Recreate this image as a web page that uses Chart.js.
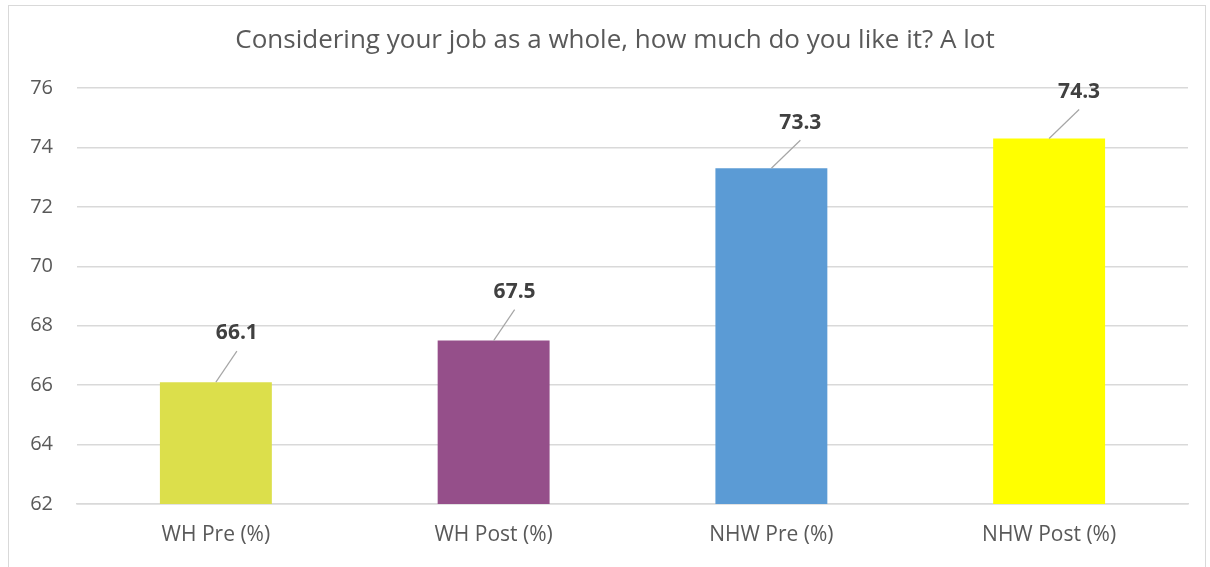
<!DOCTYPE html>
<html>
<head>
<meta charset="utf-8">
<script src="https://cdn.jsdelivr.net/npm/chart.js@4/dist/chart.umd.min.js"></script>
<style>
  html, body { margin: 0; padding: 0; background: #fff; overflow: hidden; }
  #wrap { position: relative; width: 1210px; height: 567px; }
  #frame {
    position: absolute; left: 8px; top: 5px; width: 1198px; height: 580px;
    border: 1px solid #d9d9d9; box-sizing: border-box; pointer-events: none;
  }
  canvas { position: absolute; left: 0; top: 0; }
</style>
</head>
<body>
<div id="wrap">
  <canvas id="chart" width="1210" height="567"></canvas>
  <div id="frame"></div>
</div>
<script>
// chart data
const chartTitle = 'Considering your job as a whole, how much do you like it? A lot';
const categories = ['WH Pre (%)', 'WH Post (%)', 'NHW Pre (%)', 'NHW Post (%)'];
const values = [66.1, 67.5, 73.3, 74.3];
const barColors = ['#dcdf4b', '#954f8a', '#5b9bd5', '#ffff00'];
const yTicks = [62, 64, 66, 68, 70, 72, 74, 76];

const FONT = '"Open Sans", sans-serif';
const TEXT_GREY = '#595959';

// title is centred on the outer frame rather than the chart box
const frameTitle = {
  id: 'frameTitle',
  afterDraw(chart, args, opts) {
    const { ctx } = chart;
    ctx.save();
    ctx.fillStyle = TEXT_GREY;
    ctx.font = '26px ' + FONT;
    ctx.textAlign = 'center';
    ctx.textBaseline = 'middle';
    ctx.fillText(chartTitle, opts.x, opts.y);
    ctx.restore();
  }
};

// value labels sit up and to the right of each bar, joined by a thin leader line
const leaderLabels = {
  id: 'leaderLabels',
  afterDatasetsDraw(chart, args, opts) {
    const { ctx } = chart;
    const meta = chart.getDatasetMeta(0);
    ctx.save();
    meta.data.forEach((bar, i) => {
      const off = opts.offsets[i];
      const x0 = bar.x, y0 = bar.y;
      ctx.strokeStyle = '#a6a6a6';
      ctx.lineWidth = 1.2;
      ctx.beginPath();
      ctx.moveTo(x0, y0);
      ctx.lineTo(x0 + off.dx, y0 - off.dy);
      ctx.stroke();
      ctx.fillStyle = '#404040';
      ctx.font = 'bold 21px ' + FONT;
      ctx.textAlign = 'center';
      ctx.textBaseline = 'middle';
      ctx.fillText(values[i].toFixed(1), x0 + off.dx, y0 - off.ty);
    });
    ctx.restore();
  }
};

new Chart(document.getElementById('chart'), {
  type: 'bar',
  data: {
    labels: categories,
    datasets: [{
      data: values,
      backgroundColor: barColors,
      borderWidth: 0,
      categoryPercentage: 1,
      barPercentage: 0.403
    }]
  },
  options: {
    responsive: false,
    animation: false,
    layout: { padding: { left: 0, right: 22, top: 88, bottom: 0 } },
    plugins: {
      legend: { display: false },
      tooltip: { enabled: false },
      title: { display: false },
      frameTitle: { x: 615, y: 41 },
      leaderLabels: {
        offsets: [
          { dx: 21, dy: 31, ty: 49 },
          { dx: 21, dy: 31, ty: 49 },
          { dx: 29, dy: 28, ty: 45 },
          { dx: 30, dy: 29, ty: 46 }
        ]
      }
    },
    scales: {
      x: {
        grid: { display: false, drawTicks: false },
        border: { display: true, color: '#d9d9d9', width: 1.5 },
        ticks: { color: TEXT_GREY, font: { family: FONT, size: 21 }, padding: 18 },
        afterFit: s => { s.height = 63; }
      },
      y: {
        min: 62,
        max: 76,
        afterBuildTicks: s => { s.ticks = yTicks.map(v => ({ value: v })); },
        grid: { color: '#d9d9d9', lineWidth: 1.5, drawTicks: false },
        border: { display: false },
        ticks: { color: TEXT_GREY, font: { family: FONT, size: 20 }, padding: 24 },
        afterFit: s => { s.width = 77; }
      }
    }
  },
  plugins: [leaderLabels, frameTitle]
});
</script>
</body>
</html>
